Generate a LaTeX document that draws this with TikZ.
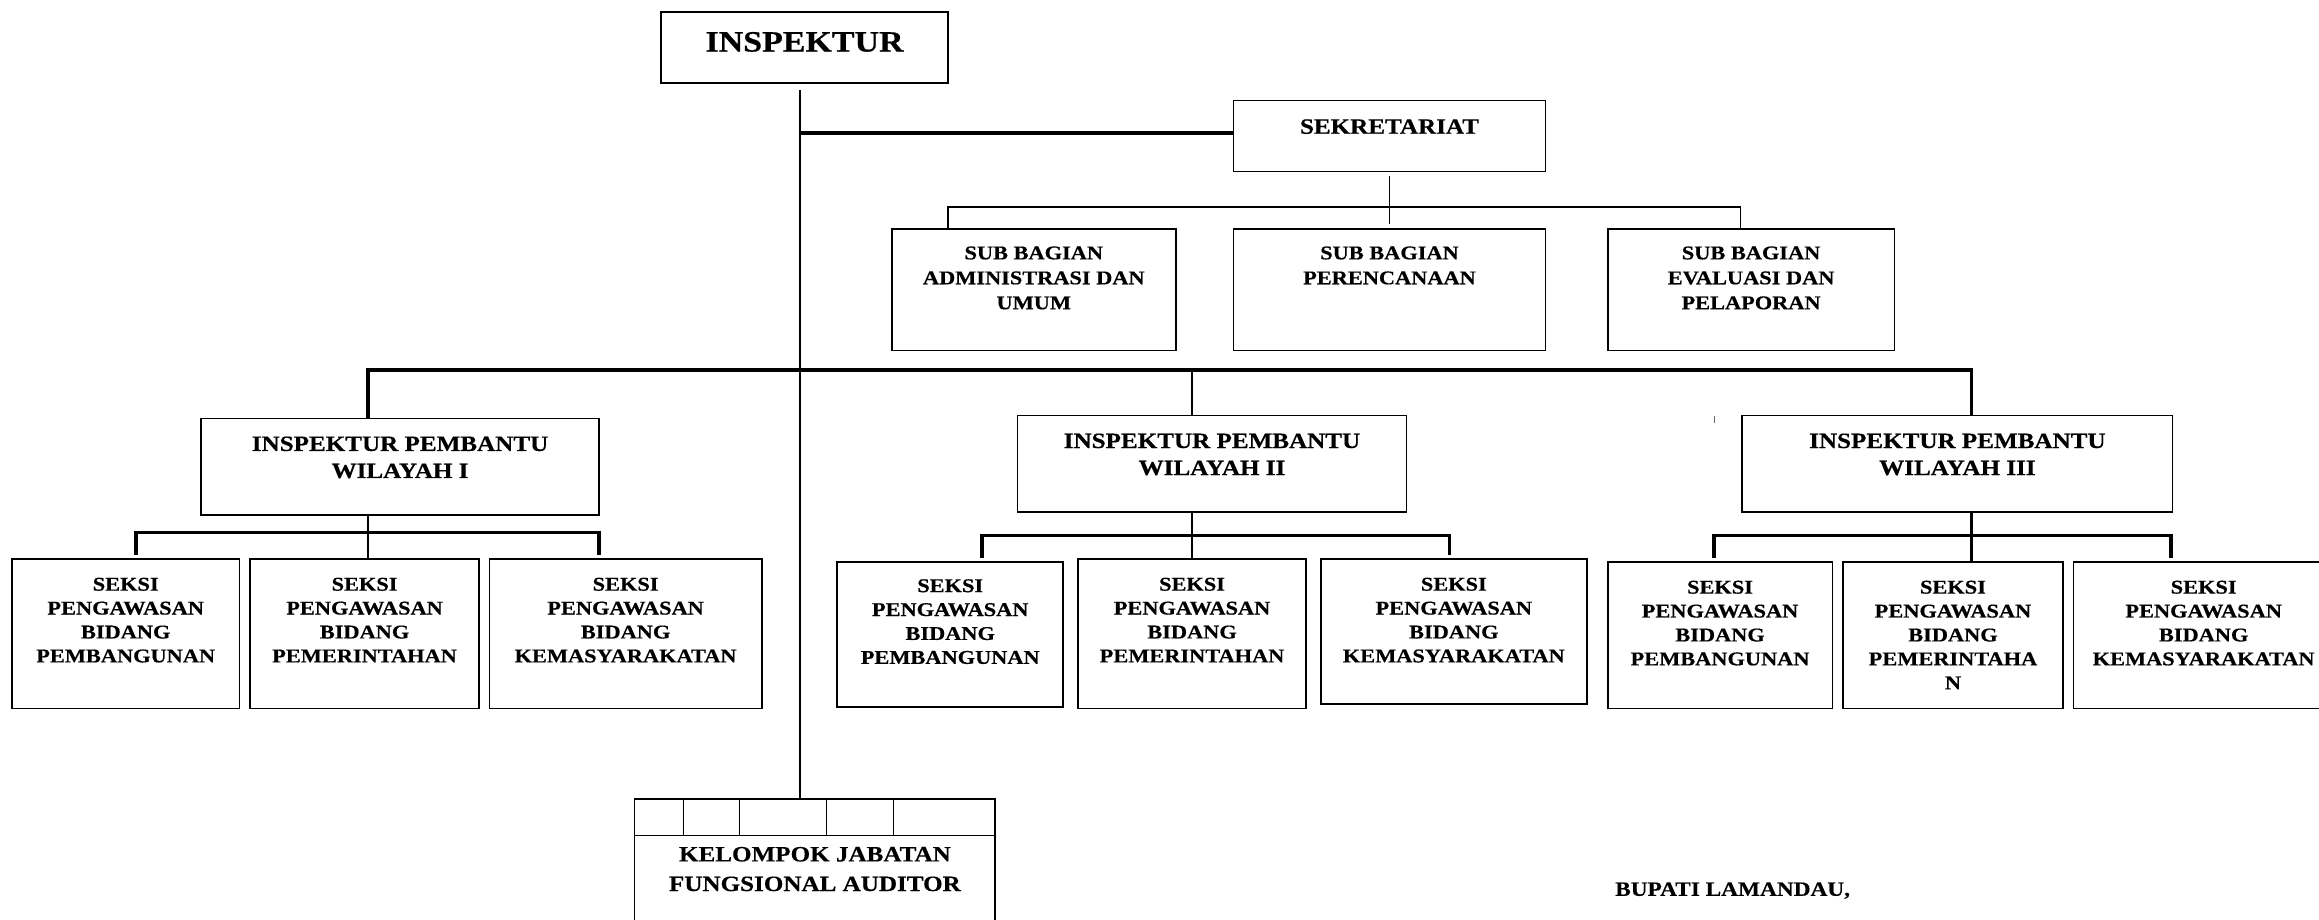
\documentclass[tikz,border=0pt]{standalone}
\usepackage{fontspec}
\newfontfamily\orgfont[FakeStretch=1.15, BoldFeatures={FakeBold=0.5}]{Liberation Serif}
\usetikzlibrary{fit,calc}

% box outline spanning two corner points
\newcommand\orgbox[5]{\node[box, fit={(#2,#3)(#4,#5)}] (#1) {};}

\tikzset{
  box/.style={draw, line width=1.7pt, inner sep=0pt},
  lbl/.style={anchor=north, align=center, inner sep=0pt,
              font=\orgfont\bfseries\fontsize{18.7}{23}\selectfont},
  lblsub/.style={lbl, font=\orgfont\bfseries\fontsize{18.7}{24}\selectfont},
  lblmid/.style={lbl, font=\orgfont\bfseries\fontsize{21}{26}\selectfont},
  lblkel/.style={lbl, font=\orgfont\bfseries\fontsize{21}{28.5}\selectfont},
  lbltop/.style={lbl, font=\orgfont\bfseries\fontsize{28.4}{34}\selectfont},
  heavy/.style={line width=4.2pt},
  bus/.style={line width=3.4pt},
  stem/.style={line width=2.2pt},
  fine/.style={line width=1.4pt},
}

\begin{document}
\begin{tikzpicture}[x=0.5mm, y=-0.5mm]
\useasboundingbox (0,0) rectangle (1568,622);

% ---- boxes ----
\orgbox{insp}{447}{8}{641}{56}
\orgbox{sek}{834}{68}{1045}{116}
\orgbox{sub1}{603}{155}{795}{237}
\orgbox{sub2}{834}{155}{1045}{237}
\orgbox{sub3}{1087}{155}{1281}{237}
\orgbox{ip1}{136}{283}{405}{348}
\orgbox{ip2}{688}{281}{951}{346}
\orgbox{ip3}{1178}{281}{1469}{346}
\orgbox{s11}{8}{378}{162}{479}
\orgbox{s12}{169}{378}{324}{479}
\orgbox{s13}{331}{378}{515}{479}
\orgbox{s21}{566}{380}{719}{478}
\orgbox{s22}{729}{378}{883}{479}
\orgbox{s23}{893}{378}{1073}{476}
\orgbox{s31}{1087}{380}{1239}{479}
\orgbox{s32}{1246}{380}{1395}{479}
\orgbox{s33}{1402}{380}{1578}{479}
\orgbox{kel}{429}{540}{673}{640}

% ---- labels ----
\node[lbltop] (t-insp) at (insp.north |- 0,21.5) {INSPEKTUR};
\node[lblmid] (t-sek) at (sek.north |- 0,80.5) {SEKRETARIAT};
\node[lblsub] (t-sub1) at (sub1.north |- 0,166.5) {SUB BAGIAN\\ADMINISTRASI DAN\\UMUM};
\node[lblsub] (t-sub2) at (sub2.north |- 0,166.5) {SUB BAGIAN\\PERENCANAAN};
\node[lblsub] (t-sub3) at (sub3.north |- 0,166.5) {SUB BAGIAN\\EVALUASI DAN\\PELAPORAN};
\node[lblmid] (t-ip1) at (ip1.north |- 0,295) {INSPEKTUR PEMBANTU\\WILAYAH I};
\node[lblmid] (t-ip2) at (ip2.north |- 0,293) {INSPEKTUR PEMBANTU\\WILAYAH II};
\node[lblmid] (t-ip3) at (ip3.north |- 0,293) {INSPEKTUR PEMBANTU\\WILAYAH III};

\node[lbl] (t-s11) at (s11.north |- 0,390.5) {SEKSI\\PENGAWASAN\\BIDANG\\PEMBANGUNAN};
\node[lbl] (t-s12) at (s12.north |- 0,390.5) {SEKSI\\PENGAWASAN\\BIDANG\\PEMERINTAHAN};
\node[lbl] (t-s13) at (s13.north |- 0,390.5) {SEKSI\\PENGAWASAN\\BIDANG\\KEMASYARAKATAN};
\node[lbl] (t-s21) at (s21.north |- 0,391.5) {SEKSI\\PENGAWASAN\\BIDANG\\PEMBANGUNAN};
\node[lbl] (t-s22) at (s22.north |- 0,390.5) {SEKSI\\PENGAWASAN\\BIDANG\\PEMERINTAHAN};
\node[lbl] (t-s23) at (s23.north |- 0,390.5) {SEKSI\\PENGAWASAN\\BIDANG\\KEMASYARAKATAN};
\node[lbl] (t-s31) at (s31.north |- 0,392.5) {SEKSI\\PENGAWASAN\\BIDANG\\PEMBANGUNAN};
\node[lbl] (t-s32) at (s32.north |- 0,392.5) {SEKSI\\PENGAWASAN\\BIDANG\\PEMERINTAHA\\N};
\node[lbl] (t-s33) at (s33.north |- 0,392.5) {SEKSI\\PENGAWASAN\\BIDANG\\KEMASYARAKATAN};

\node[lblkel] (t-kel) at (kel.north |- 0,572.5) {KELOMPOK JABATAN\\FUNGSIONAL AUDITOR};
\node[lbl, anchor=north west, font=\orgfont\bfseries\fontsize{19.5}{24}\selectfont]
  (bupati) at (1092,596.5) {BUPATI LAMANDAU,};

% ---- main spine from the inspector down to the auditor group ----
\coordinate (spinetop) at (541,61);
\draw[stem] (spinetop) -- (spinetop |- kel.north);

% ---- secretariat branch ----
\coordinate (sekjoin) at (541,90);
\draw[heavy] (sekjoin) -- (sekjoin -| sek.west);
\coordinate (sbl) at (641,140);
\coordinate (sbr) at (1177,140);
\draw[fine] ([yshift=-3pt]sek.south) -- ($(sek.south |- sub2.north)+(0,-3)$);
\draw[fine] (sbl |- sub1.north) -- (sbl) -- (sbr) -- (sbr |- sub3.north);

% ---- bus to the three assistant inspectors ----
\coordinate (ibl) at (249,250);
\coordinate (ibm) at (806,250);
\coordinate (ibr) at (1333,250);
\draw[bus] (ibl |- ip1.north) -- (ibl) -- (ibr) -- (ibr |- ip3.north);
\draw[stem] (ibm) -- (ibm |- ip2.north);
\coordinate (tick) at (1159,281);
\draw[line width=0.6pt, black!60] (tick) -- ++(0,5);

% ---- region I sections ----
\coordinate (w1a) at (92,360);
\coordinate (w1c) at (249,360);
\coordinate (w1b) at (405,360);
\draw[stem] (w1c |- ip1.south) -- (w1c |- s12.north);
\draw[bus] ($(w1a |- s11.north)+(0,-2)$) -- (w1a) -- (w1b) -- ($(w1b |- s13.north)+(0,-2)$);

% ---- region II sections ----
\coordinate (w2a) at (664,362);
\coordinate (w2c) at (806,362);
\coordinate (w2b) at (980,362);
\draw[stem] (w2c |- ip2.south) -- (w2c |- s22.north);
\draw[bus] ($(w2a |- s21.north)+(0,-2)$) -- (w2a) -- (w2b) -- ($(w2b |- s23.north)+(0,-2)$);

% ---- region III sections ----
\coordinate (w3a) at (1159,362);
\coordinate (w3c) at (1333,362);
\coordinate (w3b) at (1468,362);
\draw[stem] (w3c |- ip3.south) -- (w3c |- s32.north);
\draw[bus] ($(w3a |- s31.north)+(0,-2)$) -- (w3a) -- (w3b) -- ($(w3b |- s33.north)+(0,-2)$);

% ---- cell row on top of the auditor group ----
\draw[fine] (kel.west |- 0,565) -- (kel.east |- 0,565);
\foreach \cx in {462,500,559,604}
  \draw[fine] (kel.north -| \cx,0) -- (\cx,565);
\end{tikzpicture}
\end{document}
